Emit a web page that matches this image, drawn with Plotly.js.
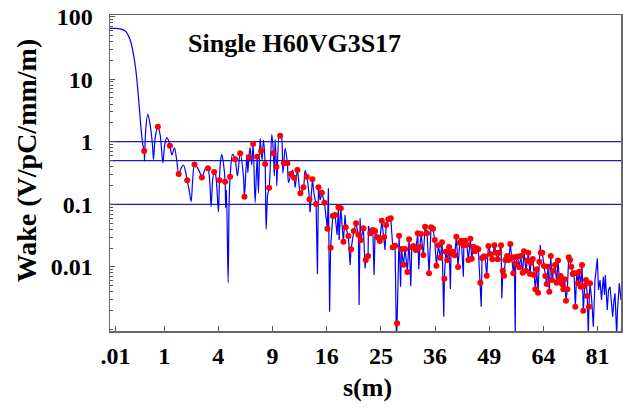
<!DOCTYPE html>
<html>
<head>
<meta charset="utf-8">
<script src="https://cdn.plot.ly/plotly-3.0.1.min.js"></script>
<style>html,body{margin:0;padding:0;background:#fff}#chart{width:623px;height:408px}</style>
</head>
<body>
<div id="chart"></div>
<script>
// x axis: s (m), drawn on a square-root scale
const tickS = [0.01, 1, 4, 9, 16, 25, 36, 49, 64, 81];
const tickLabels = ['.01', '1', '4', '9', '16', '25', '36', '49', '64', '81'];
const yTickVals = [0.01, 0.1, 1, 10, 100];
const yTickLabels = ['0.01', '0.1', '1', '10', '100'];
const refLevels = [1, 0.5, 0.1];
const sMax = 88.96;
const sSmoothEnd = 13.64; // the early, smooth part of the wake curve

// sampled points (red dots)
const dotS = [0.398,0.781,1.221,1.607,2.029,2.431,2.875,3.269,3.696,4.082,4.517,4.918,5.335,5.770,6.159,6.568,6.981,7.376,7.783,8.198,
8.628,9.100,9.437,9.861,10.30,10.72,11.14,11.55,11.97,12.35,12.75,13.20,13.55,13.96,14.47,14.80,15.29,15.66,16.10,16.58,
16.91,17.26,17.77,18.15,18.56,18.94,19.36,19.80,20.25,20.63,21.02,21.43,21.88,22.29,22.69,23.10,23.53,23.94,24.36,24.80,
25.17,25.59,25.97,26.40,26.86,27.24,27.69,28.08,28.47,28.93,29.33,29.66,30.13,30.47,31.03,31.36,31.86,32.27,32.72,32.97,
33.46,33.82,34.25,34.68,35.12,35.56,35.93,36.29,36.74,37.18,37.57,38.09,38.41,38.77,39.17,39.63,40.03,40.49,40.87,41.27,
41.68,42.06,42.66,42.95,43.36,43.75,44.24,44.58,44.98,45.40,45.82,46.22,46.73,47.16,47.59,47.92,48.36,48.77,49.28,49.80,
50.33,50.69,51.22,51.64,52.10,52.58,52.90,53.25,53.71,54.17,54.60,54.98,55.42,55.70,56.05,56.53,57.08,57.47,58.03,58.40,
58.97,59.34,59.62,60.11,60.39,60.88,61.26,61.64,62.04,62.41,62.79,63.23,63.68,64.18,64.56,64.98,65.37,65.76,66.18,66.57,
67.08,67.47,67.98,68.38,68.78,69.21,69.61,70.01,70.44,70.85,71.25,71.69,72.09,72.50,72.94,73.35,73.77,74.21,74.62,75.04,
75.48,75.90,76.32,76.77,77.19,77.62,78.14,78.50];
const dotW = [0.71,1.74,0.863,0.305,0.242,0.432,0.268,0.376,0.328,0.242,0.230,0.276,0.524,0.653,0.132,0.563,0.919,0.575,0.71,0.440,
0.184,0.653,0.399,1.25,0.452,0.452,0.305,0.266,0.353,0.150,0.187,0.276,0.120,0.251,0.101,0.187,0.153,0.106,0.0408,0.0203,
0.065,0.0675,0.0896,0.0863,0.0253,0.0429,0.0312,0.0191,0.0374,0.0497,0.0327,0.0269,0.0414,0.0129,0.0149,0.0344,0.0388,0.0374,0.0297,0.0259,
0.0547,0.0297,0.0467,0.0576,0.0597,0.0206,0.0218,0.00126,0.0315,0.0193,0.0108,0.0193,0.0083,0.0276,0.0206,0.0216,0.0186,0.0344,0.0208,0.0335,
0.0155,0.0439,0.0344,0.0079,0.0429,0.0408,0.0269,0.0104,0.0221,0.0140,0.0247,0.00648,0.0175,0.0129,0.0208,0.0165,0.0175,0.0153,0.0304,0.00996,
0.0244,0.0262,0.0221,0.0262,0.0226,0.0129,0.0282,0.0135,0.021,0.0178,0.0198,0.0191,0.0056,0.0139,0.0146,0.0146,0.00723,0.0216,0.0161,0.0132,
0.0221,0.0169,0.0132,0.0169,0.0221,0.0087,0.00723,0.0129,0.0149,0.0129,0.0232,0.0142,0.0079,0.0142,0.0111,0.0146,0.00986,0.0149,0.0081,0.0178,
0.0087,0.0126,0.0169,0.0077,0.0117,0.0134,0.00743,0.00439,0.00916,0.00387,0.0121,0.0169,0.0169,0.0103,0.00716,0.00533,0.0101,0.00402,0.0149,0.00618,
0.0086,0.0107,0.0056,0.0126,0.00641,0.00716,0.00533,0.00439,0.00634,0.00288,0.00439,0.0142,0.0129,0.0101,0.0077,0.0079,0.00231,0.0079,0.00547,0.00838,
0.00483,0.0107,0.002,0.00495,0.00618,0.00343,0.00231,0.00547];

// additional points of the continuous wake curve (blue line)
const curveS = [0,0.0092,0.035,0.079,0.139,0.216,0.277,0.331,0.368,0.405,0.434,0.489,0.550,0.615,0.644,0.696,0.858,0.953,1.018,1.102,
1.173,1.305,1.416,1.515,1.726,1.839,1.951,2.135,2.244,2.328,2.589,2.739,2.989,3.118,3.383,3.486,3.590,3.803,4.008,4.171,
4.263,4.401,4.557,4.620,4.755,4.837,5.109,5.534,6.066,6.380,6.474,6.692,6.836,7.176,7.507,7.679,7.885,8.020,8.306,8.466,
8.922,9.200,9.290,9.481,9.746,10.01,10.18,10.45,10.85,11.36,11.68,12.97,13.64,14.20,14.66,15.04,15.91,16.25,16.43,17.57,
17.88,18.83,19.64,21.14,21.31,22.17,22.75,23.76,25.78,27.94,28.77,30.82,32.48,37.95,39.47,42.54,46.95,52.30,55.95,63.09,
77.94,79.05,79.58,80.14,80.91,81.30,81.80,82.30,82.90,83.31,83.58,84.25,84.66,85.17,85.68,86.09,86.54,86.88,87.46,87.74,
88.38,88.96];
const curveW = [64.7,64.7,63.6,58.7,42.1,16.8,5.0,1.54,0.886,0.49,1.54,2.77,1.85,0.886,0.52,1.15,1.28,0.457,0.886,1.16,
1.03,0.613,0.80,0.51,0.380,0.424,0.328,0.169,0.110,0.244,0.394,0.328,0.316,0.380,0.244,0.0916,0.244,0.294,0.0762,0.51,
0.629,0.424,0.0873,0.169,0.0056,0.117,0.629,0.283,0.283,0.613,0.320,0.814,0.424,0.106,0.153,1.13,0.51,1.065,0.0399,0.141,
1.31,0.283,1.09,0.196,1.31,1.20,0.313,0.785,0.221,0.353,0.187,0.344,0.0762,0.141,0.0077,0.117,0.0675,0.180,0.00192,0.0323,
0.0269,0.0675,0.0107,0.00246,0.0597,0.0095,0.045,0.00743,0.0186,0.0007,0.00483,0.00495,0.00916,0.0016,0.00443,0.00697,0.00231,0.00315,0.0008,0.0224,
0.0008,0.00296,0.00111,0.00618,0.0137,0.00428,0.00618,0.00296,0.00697,0.00356,0.00743,0.00205,0.00428,0.00483,0.00246,0.0016,0.00296,0.00379,0.0008,0.00205,
0.00547,0.00296];

const pts = curveS.map((s, i) => [s, curveW[i]])
  .concat(dotS.map((s, i) => [s, dotW[i]]))
  .sort((a, b) => a[0] - b[0]);
const early = pts.filter(p => p[0] <= sSmoothEnd);
const late = pts.filter(p => p[0] >= sSmoothEnd);
const rt = v => Math.sqrt(v);
const xMax = rt(sMax);

const FONT = 'Liberation Serif, Times New Roman, serif';
const traces = [];
refLevels.forEach(lv => traces.push({
  x: [0, xMax], y: [lv, lv], mode: 'lines', type: 'scatter',
  line: {color: '#1c1ca8', width: 1.3}, hoverinfo: 'skip'
}));
traces.push({
  x: early.map(p => rt(p[0])), y: early.map(p => p[1]), mode: 'lines', type: 'scatter',
  line: {color: '#0000ff', width: 1.2, shape: 'spline', smoothing: 0.8}
});
traces.push({
  x: late.map(p => rt(p[0])), y: late.map(p => p[1]), mode: 'lines', type: 'scatter',
  line: {color: '#0000ff', width: 1.2}
});
traces.push({
  x: dotS.map(rt), y: dotW, mode: 'markers', type: 'scatter',
  marker: {color: '#ff0000', size: 6}, cliponaxis: true
});

const layout = {
  width: 623, height: 408,
  margin: {l: 109.8, r: 2, t: 15, b: 77, pad: 0},
  paper_bgcolor: '#fff', plot_bgcolor: '#fff',
  showlegend: false,
  font: {family: FONT, color: '#000'},
  xaxis: {
    range: [0, xMax], tickmode: 'array', tickvals: tickS.map(rt), ticktext: tickLabels,
    ticks: 'inside', ticklen: 5, tickwidth: 1, tickcolor: '#555',
    showline: true, linecolor: '#666', linewidth: 1.5, mirror: true,
    showgrid: false, zeroline: false, ticklabelstandoff: 3,
    tickfont: {family: FONT, size: 24, weight: 700, color: '#000'}
  },
  yaxis: {
    type: 'log', range: [-3.024, 2.024], tickmode: 'array', tickvals: yTickVals, ticktext: yTickLabels,
    ticks: 'inside', ticklen: 5, tickwidth: 1, tickcolor: '#555',
    minor: {ticks: 'inside', ticklen: 3, tickcolor: '#555', dtick: 'D1', showgrid: false},
    showline: true, linecolor: '#666', linewidth: 1.5, mirror: true,
    showgrid: false, zeroline: false, ticklabelstandoff: 11,
    tickfont: {family: FONT, size: 24, weight: 700, color: '#000'}
  },
  annotations: [
    {text: 'Single H60VG3S17', xref: 'paper', yref: 'paper', x: 0.361, y: 0.911,
     xanchor: 'center', yanchor: 'middle', showarrow: false,
     font: {family: FONT, size: 26, weight: 700, color: '#000'}},
    {text: 's(m)', xref: 'paper', yref: 'paper', x: 0.503, y: -0.178,
     xanchor: 'center', yanchor: 'middle', showarrow: false,
     font: {family: FONT, size: 26, weight: 700, color: '#000'}},
    {text: 'Wake (V/pC/mm/m)', xref: 'paper', yref: 'paper', x: -0.162, y: 0.538, textangle: -90,
     xanchor: 'center', yanchor: 'middle', showarrow: false,
     font: {family: FONT, size: 28, weight: 700, color: '#000'}}
  ]
};

Plotly.newPlot('chart', traces, layout, {staticPlot: true, displayModeBar: false});
</script>
</body>
</html>
